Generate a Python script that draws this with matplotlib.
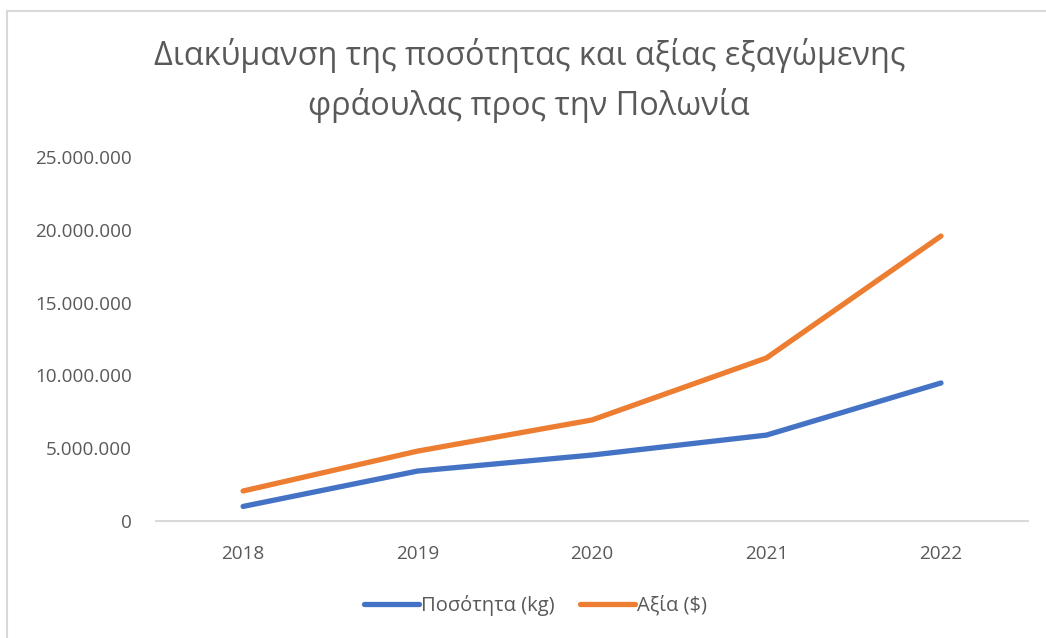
import matplotlib
matplotlib.use("Agg")
import matplotlib.pyplot as plt
from matplotlib.ticker import FuncFormatter
from matplotlib.lines import Line2D

plt.rcParams['font.family'] = ['Open Sans', 'DejaVu Sans']

years = ['2018', '2019', '2020', '2021', '2022']
quantity_kg = [1000000, 3430000, 4530000, 5900000, 9480000]
value_usd = [2060000, 4800000, 6940000, 11200000, 19570000]
series_labels = ['Ποσότητα (kg)', 'Αξία ($)']
title = 'Διακύμανση της ποσότητας και αξίας εξαγώμενης\nφράουλας προς την Πολωνία'

text_col = '#595959'

fig = plt.figure(figsize=(10.46, 6.38), dpi=100)
ax = fig.add_axes([0.149, 0.1834, 0.834, 0.5705])

x = list(range(len(years)))
ax.plot(x, quantity_kg, color='#4472C4', lw=3.8, solid_capstyle='round',
        solid_joinstyle='round', label=series_labels[0])
ax.plot(x, value_usd, color='#ED7D31', lw=3.8, solid_capstyle='round',
        solid_joinstyle='round', label=series_labels[1])

ax.set_xlim(-0.5, len(years) - 0.5)
ax.set_ylim(0, 25000000)
ax.set_yticks(range(0, 25000001, 5000000))
ax.yaxis.set_major_formatter(FuncFormatter(lambda v, p: f'{int(v):,}'.replace(',', '.')))
ax.set_xticks(x)
ax.set_xticklabels(years)

for s in ['top', 'right', 'left']:
    ax.spines[s].set_visible(False)
ax.spines['bottom'].set_color('#D9D9D9')
ax.spines['bottom'].set_linewidth(1.5)
ax.tick_params(axis='both', length=0, labelsize=13.6, colors=text_col)
ax.tick_params(axis='y', pad=17)
ax.tick_params(axis='x', pad=17)

fig.text(0.506, 0.874, title, ha='center', va='center', fontsize=23.3,
         color=text_col, linespacing=1.55)

leg = fig.legend(loc='center', bbox_to_anchor=(0.512, 0.051), ncol=2, frameon=False,
                 fontsize=14.5, handlelength=2.7, handletextpad=0.1, columnspacing=1.3)
for t in leg.get_texts():
    t.set_color(text_col)

# chart area border (top and left edges visible in the crop)
fig.add_artist(Line2D([7 / 1046, 7 / 1046], [0, 1 - 10.5 / 638], transform=fig.transFigure,
                      color='#D9D9D9', lw=1.5))
fig.add_artist(Line2D([7 / 1046, 1], [1 - 10.5 / 638, 1 - 10.5 / 638], transform=fig.transFigure,
                      color='#D9D9D9', lw=1.5))

fig.savefig('out.png', dpi=100, facecolor='white')
